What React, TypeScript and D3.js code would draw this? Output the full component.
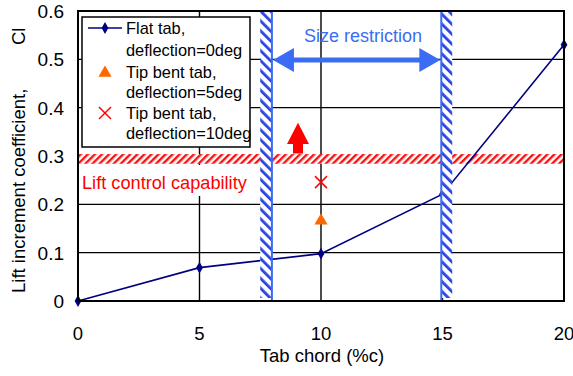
import React from "react";
import * as d3 from "d3";

const flatX = [0, 5, 10, 15, 20];
const flatY = [0, 0.069, 0.098, 0.221, 0.53];
const tip5X = [10];
const tip5Y = [0.168];
const tip10X = [10];
const tip10Y = [0.246];
const xTicks = [0, 5, 10, 15, 20];
const yTicks = [0, 0.1, 0.2, 0.3, 0.4, 0.5, 0.6];
const sizeBands = [
  [7.5, 7.98],
  [14.95, 15.4],
];
const liftBand = [0.284, 0.304];
const legendLines = [
  "Flat tab,",
  "deflection=0deg",
  "Tip bent tab,",
  "deflection=5deg",
  "Tip bent tab,",
  "deflection=10deg",
];

const W = 573;
const H = 376;
const FONT = "Liberation Sans, Arial, sans-serif";

export default function App() {
  const x = d3.scaleLinear().domain([0, 20]).range([78, 564]);
  const y = d3.scaleLinear().domain([0, 0.6]).range([301, 11]);
  const line = d3
    .line<number>()
    .x((_, i) => x(flatX[i]))
    .y((d) => y(d));
  const navy = "#000080";
  const blue = "#3a6cf4";
  const red = "#ff0000";
  const diamond = d3.symbol().type(d3.symbolDiamond).size(40)() as string;
  const tri = d3.symbol().type(d3.symbolTriangle).size(75)() as string;

  const [x0, x1] = x.range();
  const [y0, y1] = y.range();

  return (
    <div style={{ position: "absolute", left: 0, top: 0 }}>
      <svg width={W} height={H} style={{ display: "block", fontFamily: FONT }}>
        <defs>
          <pattern id="blueHatch" width="7" height="7" patternUnits="userSpaceOnUse" patternTransform="rotate(-45)">
            <rect width="7" height="7" fill="#ffffff" />
            <rect width="2.8" height="7" fill="#2a44e0" />
          </pattern>
          <pattern id="redHatch" width="5" height="5" patternUnits="userSpaceOnUse" patternTransform="rotate(45)">
            <rect width="5" height="5" fill="#ffffff" />
            <rect width="2.4" height="5" fill="#ff1010" />
          </pattern>
        </defs>
        <rect width={W} height={H} fill="#ffffff" />

        {/* gridlines */}
        {yTicks.slice(1, -1).map((t) => (
          <line key={"gy" + t} x1={x0} x2={x1} y1={y(t)} y2={y(t)} stroke="#000" strokeWidth={1.4} />
        ))}
        {xTicks.slice(1, -1).map((t) => (
          <line key={"gx" + t} x1={x(t)} x2={x(t)} y1={y1} y2={y0} stroke="#000" strokeWidth={1.4} />
        ))}

        {/* lift control capability band */}
        <rect x={x0} y={y(liftBand[1])} width={x1 - x0} height={y(liftBand[0]) - y(liftBand[1])} fill="url(#redHatch)" />

        {/* label lift control */}
        <rect x={x0 + 1} y={165} width={172} height={31} fill="#ffffff" />
        <text x={82} y={189} fontSize={18.2} fill={red}>Lift control capability</text>

        {/* red arrow up */}
        <path
          d={`M${298 - 5},${y(0.305)} L${298 - 5},${y(0.325)} L${298 - 11},${y(0.325)} L298,${y(0.369)} L${298 + 11},${y(0.325)} L${298 + 5},${y(0.325)} L${298 + 5},${y(0.305)} Z`}
          fill={red}
        />

        {/* flat tab line */}
        <path d={line(flatY) as string} fill="none" stroke={navy} strokeWidth={1.6} />
        {flatY.map((v, i) => (
          <path key={"d" + i} d={diamond} transform={`translate(${x(flatX[i])},${y(v)})`} fill={navy} />
        ))}
        {tip5Y.map((v, i) => (
          <path key={"t" + i} d={tri} transform={`translate(${x(tip5X[i])},${y(v) + 1})`} fill="#ff6600" />
        ))}
        {tip10Y.map((v, i) => {
          const cx = x(tip10X[i]);
          const cy = y(v);
          return (
            <g key={"x" + i} stroke={red} strokeWidth={1.5}>
              <line x1={cx - 6} y1={cy - 6} x2={cx + 6} y2={cy + 6} />
              <line x1={cx - 6} y1={cy + 6} x2={cx + 6} y2={cy - 6} />
            </g>
          );
        })}

        {/* size restriction bands */}
        {sizeBands.map((b, i) => (
          <g key={"sb" + i}>
            <rect x={x(b[0])} y={y1} width={x(b[1]) - x(b[0])} height={y0 - 3 - y1} fill="url(#blueHatch)" />
            <line
              x1={i === 0 ? x(b[1]) : x(b[0])}
              x2={i === 0 ? x(b[1]) : x(b[0])}
              y1={y1}
              y2={y0}
              stroke={blue}
              strokeWidth={2}
            />
          </g>
        ))}

        {/* size restriction arrow */}
        {(() => {
          const l = x(sizeBands[0][1]) + 1;
          const r = x(sizeBands[1][0]) - 1;
          const ay = 60;
          return (
            <g fill={blue}>
              <rect x={l + 15} y={ay - 2.5} width={r - l - 30} height={5} />
              <path d={`M${l},${ay} L${l + 21},${ay - 12} L${l + 21},${ay + 12} Z`} />
              <path d={`M${r},${ay} L${r - 21},${ay - 12} L${r - 21},${ay + 12} Z`} />
            </g>
          );
        })()}
        <text x={363} y={42} fontSize={18} fill={blue} textAnchor="middle">Size restriction</text>

        {/* frame */}
        <rect x={x0} y={y1} width={x1 - x0} height={y0 - y1} fill="none" stroke="#000" strokeWidth={2} />

        {/* legend */}
        <rect x={82} y={17} width={168} height={130} fill="#ffffff" stroke="#000" strokeWidth={1.5} />
        <line x1={88} x2={122} y1={28} y2={28} stroke={navy} strokeWidth={1.6} />
        <path d={diamond} transform="translate(105,28)" fill={navy} />
        <path d={tri} transform="translate(105,73)" fill="#ff6600" />
        <g stroke={red} strokeWidth={1.5}>
          <line x1={99} y1={107} x2={111} y2={119} />
          <line x1={99} y1={119} x2={111} y2={107} />
        </g>
        {legendLines.map((t, i) => (
          <text key={"l" + i} x={126} y={34 + [0, 22, 44, 64, 85, 105][i]} fontSize={16.4} fill="#000">
            {t}
          </text>
        ))}

        {/* axis tick labels */}
        {yTicks.map((t) => (
          <text key={"yl" + t} x={64} y={y(t)} dy="0.36em" textAnchor="end" fontSize={19} fill="#000">
            {t === 0 ? "0" : t.toFixed(1)}
          </text>
        ))}
        {xTicks.map((t) => (
          <text key={"xl" + t} x={x(t)} y={340} textAnchor="middle" fontSize={18.5} fill="#000">
            {t}
          </text>
        ))}
        <text x={322} y={362} textAnchor="middle" fontSize={18.5} fill="#000">Tab chord (%c)</text>
        <text transform="translate(25,293) rotate(-90)" fontSize={18.5} fill="#000">Lift increment coefficient,</text>
        <text transform="translate(25,45) rotate(-90)" fontSize={18.5} fill="#000">Cl</text>
      </svg>
    </div>
  );
}
